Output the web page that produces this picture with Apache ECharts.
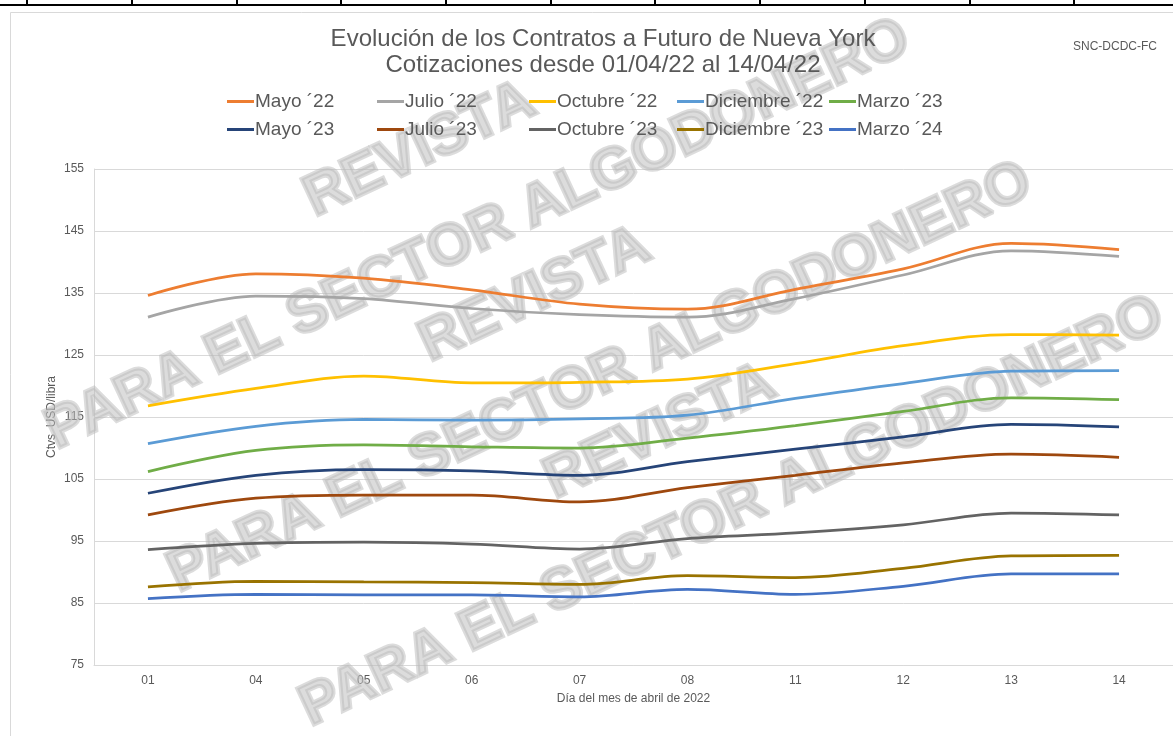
<!DOCTYPE html>
<html>
<head>
<meta charset="utf-8">
<script src="https://cdn.jsdelivr.net/npm/echarts@6/dist/echarts.min.js"></script>
<style>
html,body{margin:0;padding:0;background:#fff;}
#main{width:1173px;height:736px;}
</style>
</head>
<body>
<div id="main"></div>
<script>
// ---- data ----
const categories = ['01','04','05','06','07','08','11','12','13','14'];
const seriesNames = ['Mayo ´22','Julio ´22','Octubre ´22','Diciembre ´22','Marzo ´23','Mayo ´23','Julio ´23','Octubre ´23','Diciembre ´23','Marzo ´24'];
const mayo22 = [134.6, 138.1, 137.4, 135.5, 133.2, 132.4, 135.6, 138.9, 143.0, 142.0];
const julio22 = [131.1, 134.5, 134.1, 132.5, 131.5, 131.1, 134.1, 137.9, 141.8, 140.9];
const octubre22 = [116.8, 119.6, 121.6, 120.5, 120.6, 121.1, 123.6, 126.5, 128.3, 128.2];
const diciembre22 = [110.7, 113.5, 114.6, 114.5, 114.7, 115.3, 118.0, 120.4, 122.4, 122.5];
const marzo23 = [106.2, 109.6, 110.5, 110.2, 110.0, 111.6, 113.6, 115.9, 118.1, 117.8];
const mayo23 = [102.7, 105.6, 106.5, 106.3, 105.6, 107.8, 109.8, 111.8, 113.8, 113.4];
const julio23 = [99.2, 101.9, 102.4, 102.4, 101.3, 103.6, 105.6, 107.6, 109.0, 108.5];
const octubre23 = [93.6, 94.6, 94.8, 94.5, 93.7, 95.4, 96.3, 97.6, 99.5, 99.2];
const diciembre23 = [87.6, 88.5, 88.4, 88.3, 88.0, 89.4, 89.1, 90.6, 92.6, 92.7];
const marzo24 = [85.7, 86.4, 86.3, 86.3, 86.0, 87.2, 86.4, 87.7, 89.7, 89.7];
const allValues = [mayo22, julio22, octubre22, diciembre22, marzo23, mayo23, julio23, octubre23, diciembre23, marzo24];
const yTicks = [75, 85, 95, 105, 115, 125, 135, 145, 155];

const colors = ['#ED7D31','#A5A5A5','#FFC000','#5B9BD5','#70AD47','#264478','#9E480E','#636363','#997300','#4472C4'];
const txt = '#595959';
const font = 'Liberation Sans, Arial, sans-serif';

const chart = echarts.init(document.getElementById('main'), null, {renderer:'canvas'});

// legends: 5 columns x 2 rows
const colX = [227, 377, 529, 677, 829];
const legends = colX.map((x, i) => ({
  orient: 'vertical',
  left: x,
  top: 92,
  itemGap: 9,
  itemWidth: 27,
  itemHeight: 3,
  icon: 'rect',
  padding: 0,
  selectedMode: false,
  data: [seriesNames[i], seriesNames[i + 5]],
  textStyle: {color: txt, fontSize: 19, fontFamily: font, padding: [0, 0, 0, -4]}
}));

// watermark
const wmColor = 'rgba(185,185,185,0.5)';
const rot = 25 * Math.PI / 180;
function wm(text, x, y) {
  return {
    type: 'text', x: x, y: y, rotation: rot, z: 1, silent: true,
    style: {text: text, fill: wmColor, stroke: wmColor, lineWidth: 4, font: 'bold 58px ' + font, align: 'center', verticalAlign: 'middle'}
  };
}

// top table strip
const tableX = [26, 131, 236, 340, 445, 550, 654, 759, 864, 969, 1073];
const tableEls = [{type:'rect', shape:{x:0, y:4, width:1173, height:2}, style:{fill:'#000'}, silent:true}];
tableX.forEach(x => tableEls.push({type:'rect', shape:{x:x, y:0, width:2, height:6}, style:{fill:'#000'}, silent:true}));

chart.setOption({
  backgroundColor: '#fff',
  color: colors,
  animation: false,
  title: [
    {text: 'Evolución de los Contratos a Futuro de Nueva York\nCotizaciones desde 01/04/22 al 14/04/22', left: 598, top: 21, textAlign: 'center',
     textStyle: {color: txt, fontSize: 24, fontWeight: 'normal', fontFamily: font, lineHeight: 26}},
    {text: 'SNC-DCDC-FC', left: 1068, top: 36, textStyle: {color: txt, fontSize: 12, fontWeight: 'normal', fontFamily: font}}
  ],
  legend: legends,
  graphic: [
    {type:'rect', shape:{x:10.5, y:12.5, width:1200, height:800}, style:{fill:'none', stroke:'#d9d9d9', lineWidth:1}, silent:true, z:0},
    ...tableEls,
    wm('REVISTA', 420, 150),
    wm('PARA EL SECTOR ALGODONERO', 478, 235),
    wm('REVISTA', 535, 295),
    wm('PARA EL SECTOR ALGODONERO', 600, 378),
    wm('REVISTA', 660, 432),
    wm('PARA EL SECTOR ALGODONERO', 732, 512)
  ],
  grid: {left: 94, top: 169, width: 1083, height: 496, containLabel: false},
  xAxis: {
    type: 'category', data: categories, boundaryGap: true,
    name: 'Día del mes de abril de 2022', nameLocation: 'middle', nameGap: 28,
    nameTextStyle: {color: txt, fontSize: 12, fontFamily: font},
    axisLine: {show: true, lineStyle: {color: '#d9d9d9'}},
    axisTick: {show: false},
    axisLabel: {color: txt, fontSize: 12, fontFamily: font, margin: 10}
  },
  yAxis: {
    type: 'value', min: yTicks[0], max: yTicks[yTicks.length - 1], interval: 10,
    name: 'Ctvs  USD/libra', nameLocation: 'middle', nameGap: 36, nameRotate: 90, nameMoveOverlap: false,
    nameTextStyle: {color: txt, fontSize: 12, fontFamily: font},
    axisLine: {show: true, lineStyle: {color: '#d9d9d9'}},
    axisTick: {show: false},
    splitLine: {lineStyle: {color: '#d9d9d9'}},
    axisLabel: {color: txt, fontSize: 12, fontFamily: font, margin: 10}
  },
  series: seriesNames.map((n, i) => ({
    name: n, type: 'line', data: allValues[i], smooth: 0.35, symbol: 'none', z: 3,
    lineStyle: {width: 2.75, color: colors[i]}, itemStyle: {color: colors[i]}
  }))
});
</script>
</body>
</html>
